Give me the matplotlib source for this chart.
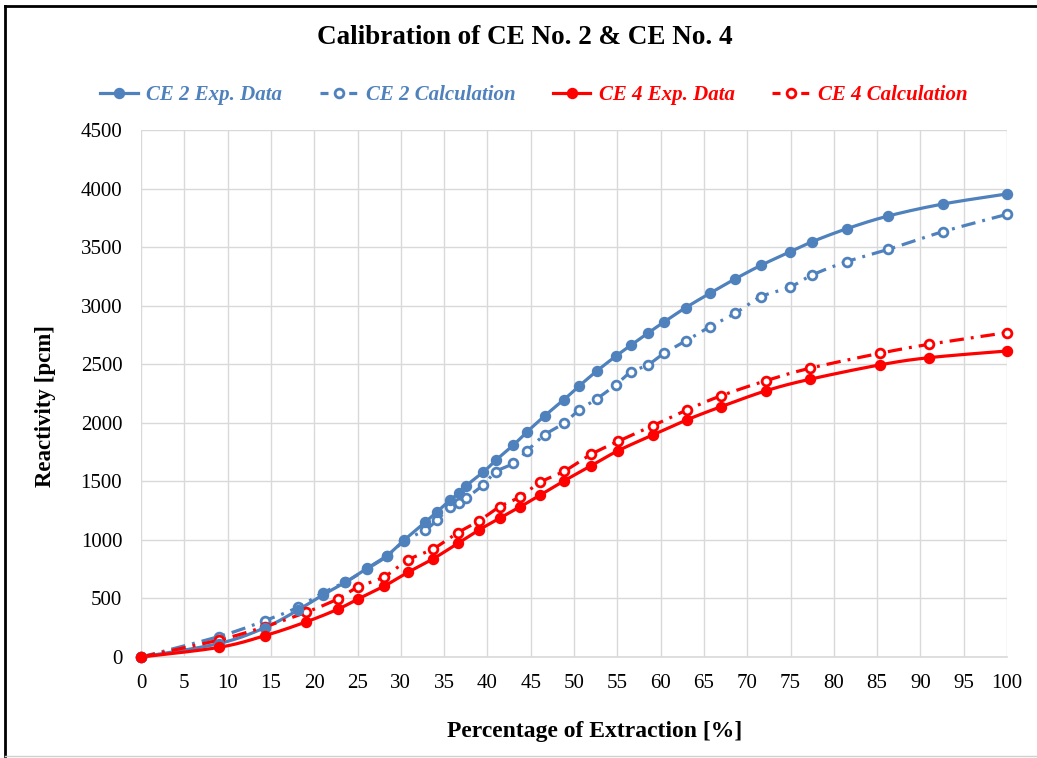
import numpy as np
import matplotlib
matplotlib.use("Agg")
import matplotlib.pyplot as plt
from matplotlib.lines import Line2D

# --- data -------------------------------------------------------------
ce2_x = [0, 9.0, 14.3, 18.1, 21.0, 23.6, 26.1, 28.4, 30.4, 32.8, 34.2, 35.7,
         36.7, 37.5, 39.5, 41.0, 43.0, 44.6, 46.6, 48.8, 50.6, 52.6, 54.8,
         56.6, 58.5, 60.4, 62.9, 65.7, 68.6, 71.6, 74.9, 77.5, 81.5, 86.3,
         92.6, 100.0]
ce2_exp = [0, 115, 250, 400, 530, 638, 757, 866, 999, 1150, 1241, 1341,
           1398, 1460, 1577, 1682, 1810, 1924, 2058, 2195, 2314, 2440, 2567,
           2664, 2764, 2861, 2983, 3106, 3228, 3345, 3458, 3546, 3657, 3766,
           3868, 3954]
ce2_calc = [0, 175, 310, 424, 548, 640, 752, 860, 990, 1084, 1170, 1283,
            1318, 1355, 1469, 1583, 1654, 1762, 1896, 1995, 2109, 2203, 2323,
            2434, 2493, 2593, 2698, 2821, 2935, 3077, 3157, 3262, 3376, 3481,
            3632, 3780]

ce4_x = [0, 9.0, 14.3, 19.0, 22.7, 25.0, 28.1, 30.8, 33.7, 36.6, 39.0, 41.4,
         43.8, 46.1, 48.9, 52.0, 55.1, 59.1, 63.0, 67.0, 72.2, 77.2, 85.3,
         91.0, 100.0]
ce4_exp = [0, 82, 182, 298, 407, 493, 606, 722, 837, 971, 1084, 1184, 1283,
           1383, 1506, 1634, 1762, 1896, 2024, 2138, 2274, 2371, 2494, 2556,
           2613]
ce4_calc = [0, 145, 259, 380, 495, 595, 686, 828, 922, 1062, 1161, 1283,
            1369, 1492, 1588, 1731, 1842, 1975, 2109, 2231, 2360, 2465, 2593,
            2670, 2770]

series_labels = ["CE 2 Exp. Data", "CE 2 Calculation",
                 "CE 4 Exp. Data", "CE 4 Calculation"]
x_ticks = list(range(0, 101, 5))
y_ticks = list(range(0, 4501, 500))

BLUE = "#4F81BD"
RED = "#FF0000"
SERIF = "Liberation Serif"


def smooth(x, y, n=24):
    """Cubic Bezier smoothing through every point (Catmull-Rom tangents)."""
    p = np.column_stack([x, y]).astype(float)
    ext = np.vstack([p[0], p, p[-1]])
    t = np.linspace(0, 1, n)[:, None]
    out = []
    for i in range(len(p) - 1):
        p0, p1, p2, p3 = ext[i], ext[i + 1], ext[i + 2], ext[i + 3]
        c1 = p1 + (p2 - p0) / 6.0
        c2 = p2 - (p3 - p1) / 6.0
        seg = ((1 - t) ** 3) * p1 + 3 * ((1 - t) ** 2) * t * c1 \
            + 3 * (1 - t) * t ** 2 * c2 + t ** 3 * p2
        out.append(seg if i == 0 else seg[1:])
    s = np.vstack(out)
    return s[:, 0], s[:, 1]


fig = plt.figure(figsize=(10.37, 7.58), dpi=100)
ax = fig.add_axes([141 / 1037, 1 - 657 / 758, 866 / 1037, 527 / 758])

dash_dot = (0, (4.5, 2.2, 0.9, 2.2))

handles = []
for x, y, color, calc in [(ce2_x, ce2_exp, BLUE, False),
                          (ce2_x, ce2_calc, BLUE, True),
                          (ce4_x, ce4_exp, RED, False),
                          (ce4_x, ce4_calc, RED, True)]:
    sx, sy = smooth(x, y)
    ls = dash_dot if calc else "-"
    ax.plot(sx, sy, color=color, lw=2.3, linestyle=ls, zorder=3,
            clip_on=False, solid_capstyle="round")
    if calc:
        ax.plot(x, y, linestyle="none", marker="o", ms=6.3, mfc="white",
                mec=color, mew=2.0, zorder=4, clip_on=False)
        h = Line2D([], [], color=color, lw=2.3, linestyle=(0, (2.5, 2.0)),
                   marker="o", ms=6.3, mfc="white", mec=color, mew=2.0)
    else:
        ax.plot(x, y, linestyle="none", marker="o", ms=7.2, mfc=color,
                mec=color, zorder=5, clip_on=False)
        h = Line2D([], [], color=color, lw=2.3, marker="o", ms=7.2,
                   mfc=color, mec=color)
    handles.append(h)

ax.set_xlim(0, 100)
ax.set_ylim(0, 4500)
ax.set_xticks(x_ticks)
ax.set_yticks(y_ticks)
ax.set_xticklabels([str(v) for v in x_ticks])
ax.set_yticklabels([str(v) for v in y_ticks])
ax.tick_params(length=0, labelsize=15)
ax.tick_params(axis="x", pad=12)
ax.tick_params(axis="y", pad=13.5)
for lab in ax.get_xticklabels() + ax.get_yticklabels():
    lab.set_fontfamily(SERIF)

ax.grid(True, color="#D9D9D9", lw=1.0, zorder=0)
ax.set_axisbelow(True)
for side in ["top", "right", "left"]:
    ax.spines[side].set_visible(False)
ax.spines["bottom"].set_color("#D9D9D9")
ax.spines["bottom"].set_linewidth(1.2)

ax.set_xlabel("Percentage of Extraction [%]", fontfamily=SERIF,
              fontweight="bold", fontsize=17)
ax.xaxis.set_label_coords((595 - 141) / 866, (657 - 731) / 527)
ax.xaxis.label.set_va("center")
ax.set_ylabel("Reactivity [pcm]", fontfamily=SERIF, fontweight="bold",
              fontsize=16.5)
ax.yaxis.set_label_coords((45 - 141) / 866, (657 - 406) / 527)
ax.yaxis.label.set_va("center")

fig.text(525 / 1037, 1 - 37 / 758, "Calibration of CE No. 2 & CE No. 4",
         ha="center", va="center", fontfamily=SERIF, fontweight="bold",
         fontsize=19.5)

leg = fig.legend(handles, series_labels, loc="center",
                 bbox_to_anchor=(534 / 1037, 1 - 95 / 758), ncol=4,
                 frameon=False, handlelength=1.8, handletextpad=0.4,
                 columnspacing=1.8,
                 prop={"family": SERIF, "style": "italic",
                       "weight": "bold", "size": 15})
for txt, col in zip(leg.get_texts(), [BLUE, BLUE, RED, RED]):
    txt.set_color(col)

# outer chart border
fig.add_artist(Line2D([5 / 1037, 5 / 1037], [1 - 756 / 758, 1 - 6 / 758],
                      transform=fig.transFigure, color="black", lw=2))
fig.add_artist(Line2D([5 / 1037, 1.0], [1 - 6 / 758, 1 - 6 / 758],
                      transform=fig.transFigure, color="black", lw=2))
fig.add_artist(Line2D([5 / 1037, 1.0], [1 - 756 / 758, 1 - 756 / 758],
                      transform=fig.transFigure, color="#D0D0D0", lw=1))

fig.savefig("out.png", dpi=100, facecolor="white")
